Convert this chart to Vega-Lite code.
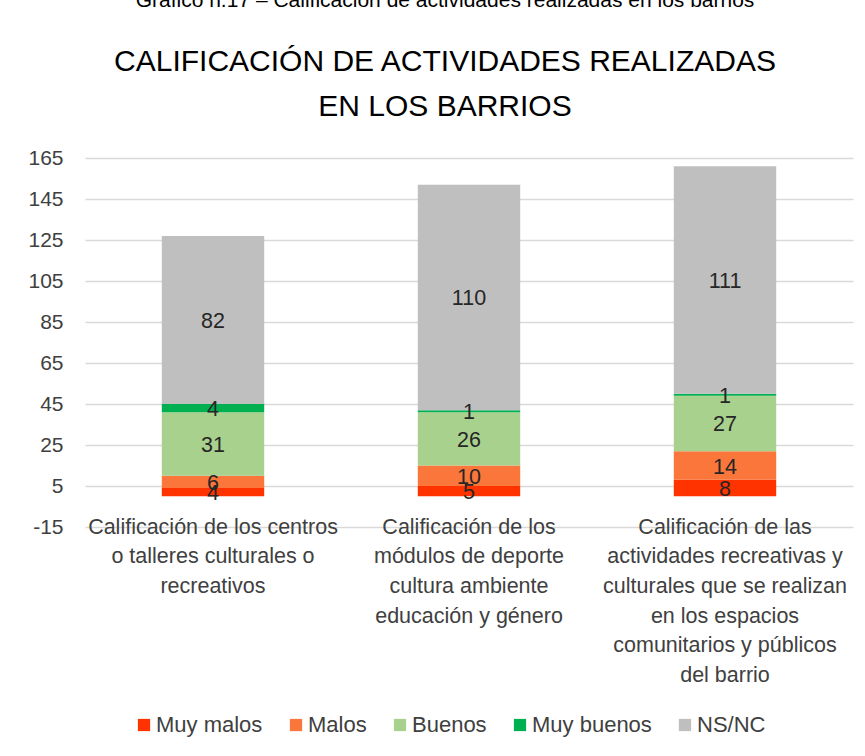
{
  "$schema": "https://vega.github.io/schema/vega-lite/v6.json",
  "autosize": {"type": "none"},
  "padding": {"left": 85, "top": 158, "right": 12, "bottom": 229},
  "width": 768,
  "height": 369,
  "background": "white",
  "title": {
    "text": "Gráfico n.17 – Calificación de actividades realizadas en los barrios",
    "subtitle": ["CALIFICACIÓN  DE ACTIVIDADES REALIZADAS", "EN LOS BARRIOS"],
    "anchor": "middle",
    "frame": "group",
    "dx": -24,
    "offset": 25,
    "font": "Liberation Sans",
    "fontSize": 21,
    "fontWeight": "normal",
    "color": "#000000",
    "subtitleFont": "Liberation Sans",
    "subtitleFontSize": 30,
    "subtitleColor": "#000000",
    "subtitleLineHeight": 45,
    "subtitlePadding": 36
  },
  "data": {
    "values": [
      {"actividad": "Calificación de los centros|o talleres culturales o|recreativos", "categoria": "Muy malos", "orden": 1, "valor": 4},
      {"actividad": "Calificación de los centros|o talleres culturales o|recreativos", "categoria": "Malos", "orden": 2, "valor": 6},
      {"actividad": "Calificación de los centros|o talleres culturales o|recreativos", "categoria": "Buenos", "orden": 3, "valor": 31},
      {"actividad": "Calificación de los centros|o talleres culturales o|recreativos", "categoria": "Muy buenos", "orden": 4, "valor": 4},
      {"actividad": "Calificación de los centros|o talleres culturales o|recreativos", "categoria": "NS/NC", "orden": 5, "valor": 82},
      {"actividad": "Calificación de los|módulos de deporte|cultura ambiente|educación y género", "categoria": "Muy malos", "orden": 1, "valor": 5},
      {"actividad": "Calificación de los|módulos de deporte|cultura ambiente|educación y género", "categoria": "Malos", "orden": 2, "valor": 10},
      {"actividad": "Calificación de los|módulos de deporte|cultura ambiente|educación y género", "categoria": "Buenos", "orden": 3, "valor": 26},
      {"actividad": "Calificación de los|módulos de deporte|cultura ambiente|educación y género", "categoria": "Muy buenos", "orden": 4, "valor": 1},
      {"actividad": "Calificación de los|módulos de deporte|cultura ambiente|educación y género", "categoria": "NS/NC", "orden": 5, "valor": 110},
      {"actividad": "Calificación de las|actividades recreativas y|culturales que se realizan|en los espacios|comunitarios y públicos|del barrio", "categoria": "Muy malos", "orden": 1, "valor": 8},
      {"actividad": "Calificación de las|actividades recreativas y|culturales que se realizan|en los espacios|comunitarios y públicos|del barrio", "categoria": "Malos", "orden": 2, "valor": 14},
      {"actividad": "Calificación de las|actividades recreativas y|culturales que se realizan|en los espacios|comunitarios y públicos|del barrio", "categoria": "Buenos", "orden": 3, "valor": 27},
      {"actividad": "Calificación de las|actividades recreativas y|culturales que se realizan|en los espacios|comunitarios y públicos|del barrio", "categoria": "Muy buenos", "orden": 4, "valor": 1},
      {"actividad": "Calificación de las|actividades recreativas y|culturales que se realizan|en los espacios|comunitarios y públicos|del barrio", "categoria": "NS/NC", "orden": 5, "valor": 111}
    ]
  },
  "transform": [
    {"stack": "valor", "groupby": ["actividad"], "sort": [{"field": "orden", "order": "ascending"}], "as": ["v0", "v1"]},
    {"calculate": "(datum.v0 + datum.v1) / 2", "as": "vmid"}
  ],
  "encoding": {
    "x": {
      "field": "actividad",
      "type": "nominal",
      "sort": null,
      "scale": {"paddingInner": 0.6, "paddingOuter": 0.3},
      "axis": {
        "title": null,
        "labelAngle": 0,
        "labelExpr": "split(datum.label, '|')",
        "labelFont": "Liberation Sans",
        "labelFontSize": 21.5,
        "labelLineHeight": 29.7,
        "labelColor": "#404040",
        "labelBaseline": "top",
        "labelPadding": -11,
        "labelLimit": 0,
        "labelOverlap": false,
        "ticks": false,
        "domain": false,
        "grid": false
      }
    }
  },
  "layer": [
    {
      "mark": {"type": "bar"},
      "encoding": {
        "y": {
          "field": "v0",
          "type": "quantitative",
          "scale": {"domain": [-15, 165], "nice": false, "zero": false},
          "axis": {
            "title": null,
            "values": [-15, 5, 25, 45, 65, 85, 105, 125, 145, 165],
            "labelExpr": "'' + datum.value",
            "labelFont": "Liberation Sans",
            "labelFontSize": 21,
            "labelColor": "#404040",
            "labelPadding": 22,
            "ticks": false,
            "domain": false,
            "grid": true,
            "gridColor": "#D9D9D9",
            "gridWidth": 1.5
          }
        },
        "y2": {"field": "v1"},
        "color": {
          "field": "categoria",
          "type": "nominal",
          "sort": ["Muy malos", "Malos", "Buenos", "Muy buenos", "NS/NC"],
          "scale": {
            "domain": ["Muy malos", "Malos", "Buenos", "Muy buenos", "NS/NC"],
            "range": ["#FF3300", "#FB763A", "#A9D18E", "#00B050", "#BFBFBF"]
          },
          "legend": {
            "title": null,
            "orient": "none",
            "legendX": 48,
            "legendY": 556,
            "direction": "horizontal",
            "symbolType": "square",
            "symbolSize": 150,
            "symbolStrokeWidth": 0,
            "labelFont": "Liberation Sans",
            "labelFontSize": 22,
            "labelColor": "#404040",
            "labelOffset": 1,
            "columnPadding": 22,
            "labelLimit": 0
          }
        }
      }
    },
    {
      "mark": {"type": "rule", "color": "#D9D9D9", "strokeWidth": 1.5},
      "encoding": {"y": {"datum": 0, "type": "quantitative"}}
    },
    {
      "mark": {"type": "text", "font": "Liberation Sans", "fontSize": 21.5, "color": "#262626", "baseline": "middle", "dy": 2},
      "encoding": {
        "y": {"field": "vmid", "type": "quantitative"},
        "text": {"field": "valor", "type": "quantitative"}
      }
    }
  ],
  "config": {
    "view": {"stroke": null}
  }
}
